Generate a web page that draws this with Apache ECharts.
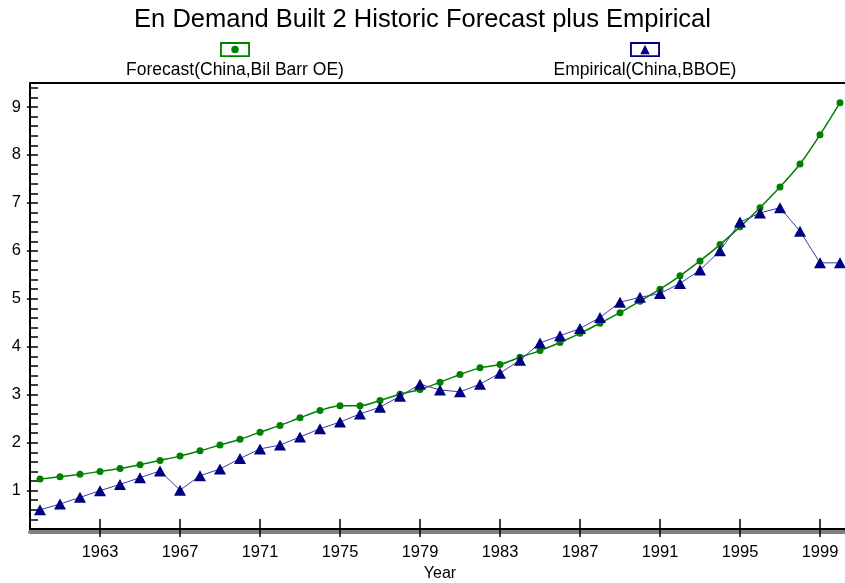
<!DOCTYPE html>
<html>
<head>
<meta charset="utf-8">
<script src="https://cdn.jsdelivr.net/npm/echarts@6/dist/echarts.min.js"></script>
<style>html,body{margin:0;padding:0;background:#fff}#c{width:845px;height:583px}</style>
</head>
<body>
<div id="c"></div>
<script>
const years = [1960,1961,1962,1963,1964,1965,1966,1967,1968,1969,1970,1971,1972,1973,1974,1975,1976,1977,1978,1979,1980,1981,1982,1983,1984,1985,1986,1987,1988,1989,1990,1991,1992,1993,1994,1995,1996,1997,1998,1999,2000];
const forecast = [1.24,1.29,1.34,1.40,1.46,1.54,1.63,1.72,1.83,1.95,2.07,2.22,2.36,2.52,2.67,2.77,2.77,2.88,3.01,3.11,3.26,3.42,3.56,3.63,3.78,3.92,4.09,4.28,4.49,4.71,4.95,5.20,5.48,5.79,6.13,6.50,6.90,7.33,7.81,8.42,9.09];
const empirical = [0.60,0.72,0.86,1.00,1.13,1.27,1.41,1.01,1.31,1.45,1.67,1.87,1.95,2.12,2.29,2.43,2.60,2.74,2.97,3.22,3.10,3.06,3.22,3.45,3.72,4.08,4.23,4.38,4.61,4.93,5.03,5.11,5.32,5.60,6.00,6.60,6.79,6.90,6.41,5.75,5.75];
const xTickYears = [1963,1967,1971,1975,1979,1983,1987,1991,1995,1999];
const yTickLabels = [1,2,3,4,5,6,7,8,9];
const nameF = 'Forecast(China,Bil Barr OE)';
const nameE = 'Empirical(China,BBOE)';
const titleText = 'En Demand Built 2 Historic Forecast plus Empirical';

const FONT = '"Liberation Sans", Arial, sans-serif';
function textW(t, size){
  const c = document.createElement('canvas').getContext('2d');
  c.font = size + 'px "Liberation Sans", Arial, sans-serif';
  return c.measureText(t).width;
}
const legSize = 17.5;
const iconF = 'path://M0,0L32,0L32,16L0,16Z M2,2L2,14L30,14L30,2Z M12,8A4,4,0,1,0,20,8A4,4,0,1,0,12,8Z';
const iconE = 'path://M0,0L32,0L32,16L0,16Z M2,2L2,14L30,14L30,2Z M16,3L21,13L11,13Z';
const isTickYear = (i) => xTickYears.indexOf(years[i]) >= 0;
const cats = years.map(String);

const chart = echarts.init(document.getElementById('c'), null, {renderer:'canvas'});
const axisBase = {type:'category', data:cats, boundaryGap:true};
chart.setOption({
  animation:false,
  backgroundColor:'#fff',
  title:{text:titleText, left:'center', top:2, textStyle:{fontFamily:FONT, fontSize:25.5, fontWeight:'normal', color:'#000'}},
  legend:[
    {data:[nameF], icon:iconF, itemWidth:32, itemHeight:15, padding:0, left:235-16, top:42, formatter:()=>'', itemGap:0, textStyle:{fontSize:1}},
    {data:[nameE], icon:iconE, itemWidth:32, itemHeight:15, padding:0, left:645-16, top:42, formatter:()=>'', itemGap:0, textStyle:{fontSize:1}},
    {data:[nameF], icon:'circle', itemWidth:0, itemHeight:0, padding:0, left:235 - textW(nameF,legSize)/2 - 5, top:61, textStyle:{fontFamily:FONT, fontSize:legSize, color:'#000'}},
    {data:[nameE], icon:'circle', itemWidth:0, itemHeight:0, padding:0, left:645 - textW(nameE,legSize)/2 - 5, top:61, textStyle:{fontFamily:FONT, fontSize:legSize, color:'#000'}}
  ],
  grid:{left:30, top:83, width:820, height:446, containLabel:false, outerBoundsMode:'none'},
  xAxis:[
    Object.assign({}, axisBase, {position:'bottom', name:'Year', nameLocation:'middle', nameGap:37,
      nameTextStyle:{fontFamily:FONT, fontSize:16, color:'#000'},
      axisLine:{show:true, lineStyle:{color:'#000', width:2}},
      axisTick:{show:true, alignWithLabel:true, interval:(i)=>isTickYear(i), length:8, lineStyle:{color:'#000', width:1.5}},
      axisLabel:{interval:(i)=>isTickYear(i), fontFamily:FONT, fontSize:16.5, color:'#000', margin:15},
      splitLine:{show:false}, z:5}),
    Object.assign({}, axisBase, {position:'bottom', axisLine:{show:false},
      axisTick:{show:true, inside:true, alignWithLabel:true, interval:(i)=>isTickYear(i), length:10, lineStyle:{color:'#000', width:1.5}},
      axisLabel:{show:false}, splitLine:{show:false}}),
    Object.assign({}, axisBase, {position:'bottom', offset:3, axisLine:{show:true, lineStyle:{color:'#808080', width:4}},
      axisTick:{show:false}, axisLabel:{show:false}, splitLine:{show:false}, z:1}),
    Object.assign({}, axisBase, {position:'top', axisLine:{show:true, lineStyle:{color:'#000', width:2}},
      axisTick:{show:false}, axisLabel:{show:false}, splitLine:{show:false}})
  ],
  yAxis:[
    {type:'value', min:0.2, max:9.5, interval:0.2, position:'left',
      axisLine:{show:true, lineStyle:{color:'#000', width:2}},
      axisTick:{show:true, inside:true, length:8, lineStyle:{color:'#000', width:1.5}},
      axisLabel:{customValues:yTickLabels, fontFamily:FONT, fontSize:16.5, color:'#000', margin:9},
      splitLine:{show:false}},
    {type:'value', min:0.2, max:9.5, interval:0.2, position:'left',
      axisLine:{show:false},
      axisTick:{show:true, customValues:yTickLabels, length:3, lineStyle:{color:'#000', width:1.5}},
      axisLabel:{show:false}, splitLine:{show:false}}
  ],
  series:[
    {name:nameF, type:'line', data:forecast, smooth:0.3, symbol:'circle', symbolSize:7,
      itemStyle:{color:'#008000'}, lineStyle:{color:'#008000', width:1.5}, z:3},
    {name:nameE, type:'line', data:empirical, symbol:'triangle', symbolSize:[12,11],
      itemStyle:{color:'#000080'}, lineStyle:{color:'#3a3aa0', width:1}, z:4}
  ]
});
</script>
</body>
</html>
